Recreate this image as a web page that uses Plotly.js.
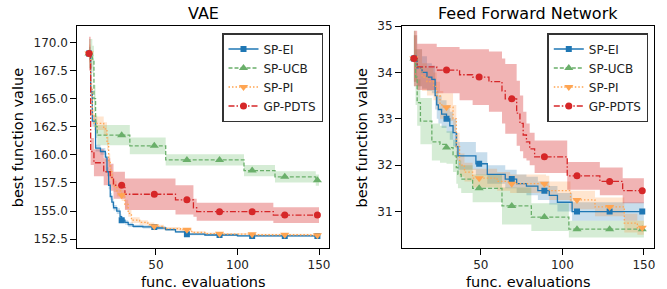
<!DOCTYPE html>
<html><head><meta charset="utf-8">
<script src="https://cdn.plot.ly/plotly-3.0.1.min.js"></script>
<style>html,body{margin:0;padding:0;background:#fff}#chart{width:667px;height:289px}</style>
</head><body><div id="chart"></div>
<script>
// ---------- data ----------
const seriesNames = ['SP-EI', 'SP-UCB', 'SP-PI', 'GP-PDTS'];
const panelTitles = ['VAE', 'Feed Forward Network'];
const xTicks = [50, 100, 150];
const vaeYTicks = [152.5, 155, 157.5, 160, 162.5, 165, 167.5, 170];
const ffnYTicks = [31, 32, 33, 34, 35];
const markX = [9, 29, 49, 69, 89, 109, 129, 149];

// VAE panel (step points: x, mean, band half-width)
const vaeEI_x = [9, 10, 11, 13, 16, 19, 20, 21, 22, 23, 24, 26, 28, 29, 31, 33, 36, 42, 50, 56, 62, 68, 80, 100, 150];
const vaeEI_y = [169.0, 165.6, 163.0, 160.6, 160.3, 159.8, 158.5, 157.3, 156.3, 155.8, 155.3, 155.0, 154.5, 154.2, 154.0, 153.8, 153.65, 153.6, 153.5, 153.35, 153.15, 152.95, 152.88, 152.8, 152.8];
const vaeEI_e = [0.6, 0.5, 0.5, 0.3, 0.3, 0.4, 0.4, 0.35, 0.3, 0.3, 0.25, 0.25, 0.2, 0.2, 0.2, 0.2, 0.15, 0.15, 0.15, 0.12, 0.1, 0.1, 0.1, 0.08, 0.08];

const vaeUCB_x = [9, 11, 12, 13, 14, 34, 56, 104, 123, 148, 150];
const vaeUCB_y = [169.0, 168.5, 165.0, 162.5, 161.75, 160.8, 159.55, 158.6, 158.05, 157.75, 157.75];
const vaeUCB_e = [1.3, 1.2, 1.2, 1.0, 0.9, 0.75, 0.5, 0.5, 0.5, 0.5, 0.5];

const vaePI_x = [9, 10, 11, 12, 18, 20, 21, 22, 23, 24, 26, 29, 31, 33, 35, 40, 45, 49, 55, 65, 72, 80, 90, 110, 145, 150];
const vaePI_y = [169.0, 166.0, 163.5, 162.8, 162.3, 161.0, 159.5, 158.5, 157.8, 157.2, 156.8, 156.4, 155.6, 154.8, 154.2, 154.0, 153.8, 153.65, 153.45, 153.35, 153.1, 153.0, 152.95, 152.9, 152.85, 152.85];
const vaePI_e = [0.8, 0.7, 0.6, 0.6, 0.6, 0.6, 0.6, 0.6, 0.6, 0.5, 0.5, 0.5, 0.4, 0.3, 0.25, 0.2, 0.2, 0.15, 0.15, 0.15, 0.12, 0.1, 0.1, 0.1, 0.1, 0.1];

const vaeGP_x = [9, 10, 12, 18, 22, 24, 31, 62, 73, 75, 122, 150];
const vaeGP_y = [169.0, 160.3, 159.3, 158.5, 158.0, 157.3, 156.5, 156.0, 155.3, 154.95, 154.65, 154.65];
const vaeGP_e = [1.5, 1.2, 1.2, 1.2, 1.2, 1.2, 1.4, 1.3, 0.8, 0.8, 0.7, 0.7];

// Feed Forward Network panel
const ffnEI_x = [9, 11, 14, 17, 20, 22, 23, 24, 26, 29, 31, 33, 35, 36, 47, 54, 65, 72, 78, 85, 92, 97, 106, 150];
const ffnEI_y = [34.3, 34.1, 34.0, 33.9, 33.85, 33.5, 33.3, 33.2, 33.1, 33.0, 32.85, 32.7, 32.4, 32.2, 32.03, 31.8, 31.7, 31.6, 31.55, 31.45, 31.35, 31.2, 31.0, 31.0];
const ffnEI_e = [0.5, 0.4, 0.35, 0.3, 0.3, 0.3, 0.3, 0.3, 0.3, 0.3, 0.3, 0.3, 0.3, 0.3, 0.25, 0.2, 0.2, 0.2, 0.2, 0.2, 0.2, 0.2, 0.2, 0.2];

const ffnUCB_x = [9, 10, 11, 13, 20, 25, 29, 33, 35, 36, 38, 45, 63, 81, 104, 150];
const ffnUCB_y = [34.3, 33.9, 33.35, 32.95, 32.5, 32.45, 32.38, 32.2, 31.95, 31.8, 31.7, 31.5, 31.12, 30.88, 30.62, 30.62];
const ffnUCB_e = [0.6, 0.6, 0.5, 0.5, 0.4, 0.4, 0.35, 0.35, 0.35, 0.3, 0.3, 0.3, 0.4, 0.3, 0.18, 0.18];

const ffnPI_x = [9, 11, 14, 17, 21, 23, 25, 27, 33, 35, 37, 40, 45, 60, 68, 90, 92, 105, 120, 138, 146, 150];
const ffnPI_y = [34.3, 34.1, 33.9, 33.8, 33.7, 33.5, 33.3, 33.25, 33.0, 32.4, 32.0, 31.85, 31.72, 31.65, 31.6, 31.57, 31.45, 31.25, 31.1, 30.75, 30.65, 30.65];
const ffnPI_e = [0.5, 0.4, 0.3, 0.3, 0.3, 0.3, 0.3, 0.3, 0.3, 0.3, 0.25, 0.2, 0.2, 0.2, 0.2, 0.2, 0.2, 0.2, 0.2, 0.2, 0.15, 0.15];

const ffnGP_x = [9, 11, 23, 37, 45, 55, 63, 65, 72, 74, 76, 78, 80, 83, 103, 123, 137, 150];
const ffnGP_y = [34.3, 34.12, 34.05, 33.95, 33.9, 33.8, 33.6, 33.43, 33.12, 32.9, 32.65, 32.5, 32.35, 32.18, 31.77, 31.65, 31.45, 31.45];
const ffnGP_e = [0.6, 0.5, 0.5, 0.55, 0.6, 0.65, 0.7, 0.75, 0.7, 0.6, 0.5, 0.4, 0.35, 0.35, 0.3, 0.3, 0.27, 0.27];

// ---------- styles ----------
const styles = {
  'SP-EI':   {color: '#1f77b4', fill: 'rgba(31,119,180,0.25)', dash: 'solid', symbol: 'square', size: 6},
  'SP-UCB':  {color: '#6aaf6a', fill: 'rgba(44,160,44,0.2)', dash: '4px,2px', symbol: 'triangle-up', size: 8},
  'SP-PI':   {color: '#ffa552', fill: 'rgba(255,127,14,0.2)', dash: '1.5px,2px', symbol: 'triangle-down', size: 8},
  'GP-PDTS': {color: '#d62728', fill: 'rgba(214,39,40,0.35)', dash: '6px,2px,1.5px,2px', symbol: 'circle', size: 7}
};

function stepAt(xs, ys, x) {
  let v = ys[0];
  for (let i = 0; i < xs.length; i++) if (xs[i] <= x) v = ys[i];
  return v;
}

const panels = [
  {xa: 'x', ya: 'y', legend: 'legend', series: [
    [vaeEI_x, vaeEI_y, vaeEI_e], [vaeUCB_x, vaeUCB_y, vaeUCB_e], [vaePI_x, vaePI_y, vaePI_e], [vaeGP_x, vaeGP_y, vaeGP_e]]},
  {xa: 'x2', ya: 'y2', legend: 'legend2', series: [
    [ffnEI_x, ffnEI_y, ffnEI_e], [ffnUCB_x, ffnUCB_y, ffnUCB_e], [ffnPI_x, ffnPI_y, ffnPI_e], [ffnGP_x, ffnGP_y, ffnGP_e]]}
];

const fills = [], lines = [], marks = [], legends = [];
panels.forEach(p => {
  p.series.forEach((s, i) => {
    const name = seriesNames[i], st = styles[name];
    const [xs, ys, es] = s;
    fills.push({x: xs, y: ys.map((v, k) => v - es[k]), xaxis: p.xa, yaxis: p.ya, mode: 'lines',
      line: {width: 0, shape: 'hv'}, showlegend: false, hoverinfo: 'skip'});
    fills.push({x: xs, y: ys.map((v, k) => v + es[k]), xaxis: p.xa, yaxis: p.ya, mode: 'lines',
      line: {width: 0, shape: 'hv'}, fill: 'tonexty', fillcolor: st.fill, showlegend: false, hoverinfo: 'skip'});
    lines.push({x: xs, y: ys, xaxis: p.xa, yaxis: p.ya, mode: 'lines',
      line: {color: st.color, width: 1.3, dash: st.dash, shape: 'hv'}, showlegend: false, name: name});
    marks.push({x: markX, y: markX.map(v => stepAt(xs, ys, v)), xaxis: p.xa, yaxis: p.ya, mode: 'markers',
      marker: {color: st.color, symbol: st.symbol, size: st.size}, showlegend: false, name: name});
    legends.push({x: [null], y: [null], xaxis: p.xa, yaxis: p.ya, mode: 'lines+markers', name: name,
      legend: p.legend, line: {color: st.color, width: 1.3, dash: st.dash},
      marker: {color: st.color, symbol: st.symbol, size: st.size}});
  });
});

const font = 'DejaVu Sans, sans-serif';
const axisBase = {showline: true, mirror: true, linecolor: '#000', linewidth: 1, ticks: 'outside',
  ticklen: 6, tickwidth: 1, tickcolor: '#000', showgrid: false, zeroline: false,
  tickfont: {family: font, size: 12, color: '#222'}};
const yDom = [1 - 247.7 / 289, 1 - 26 / 289];

const legendBase = {font: {family: font, size: 12, color: '#222'}, bgcolor: 'rgba(255,255,255,0.85)',
  bordercolor: '#333', borderwidth: 1.5, xanchor: 'right', yanchor: 'top', tracegroupgap: 0,
  traceorder: 'normal', itemwidth: 30};

const layout = {
  width: 667, height: 289, margin: {l: 0, r: 0, t: 0, b: 0},
  paper_bgcolor: '#fff', plot_bgcolor: '#fff', showlegend: true,
  xaxis: Object.assign({}, axisBase, {domain: [77.3 / 667, 329.3 / 667], range: [1.8, 156.3], tickvals: xTicks, anchor: 'y'}),
  yaxis: Object.assign({}, axisBase, {domain: yDom, range: [151.75, 171.45], tickvals: vaeYTicks, tickformat: '.1f', anchor: 'x'}),
  xaxis2: Object.assign({}, axisBase, {domain: [402 / 667, 654 / 667], range: [1.7, 156.2], tickvals: xTicks, anchor: 'y2'}),
  yaxis2: Object.assign({}, axisBase, {domain: yDom, range: [30.22, 35.001], tickvals: ffnYTicks, anchor: 'x2'}),
  legend: Object.assign({}, legendBase, {x: 323 / 667, y: 1 - 33 / 289}),
  legend2: Object.assign({}, legendBase, {x: 648.3 / 667, y: 1 - 33 / 289}),
  annotations: [
    {text: panelTitles[0], x: 203.3 / 667, y: 1 - 14 / 289, xref: 'paper', yref: 'paper', showarrow: false,
      xanchor: 'center', yanchor: 'middle', font: {family: font, size: 16, color: '#000'}},
    {text: panelTitles[1], x: 528 / 667, y: 1 - 14 / 289, xref: 'paper', yref: 'paper', showarrow: false,
      xanchor: 'center', yanchor: 'middle', font: {family: font, size: 16, color: '#000'}},
    {text: 'func. evaluations', x: 203.3 / 667, y: 1 - 281.7 / 289, xref: 'paper', yref: 'paper', showarrow: false,
      xanchor: 'center', yanchor: 'middle', font: {family: font, size: 14.5, color: '#000'}},
    {text: 'func. evaluations', x: 528 / 667, y: 1 - 281.7 / 289, xref: 'paper', yref: 'paper', showarrow: false,
      xanchor: 'center', yanchor: 'middle', font: {family: font, size: 14.5, color: '#000'}},
    {text: 'best function value', x: 18.3 / 667, y: 1 - 137 / 289, xref: 'paper', yref: 'paper', showarrow: false,
      textangle: -90, xanchor: 'center', yanchor: 'middle', font: {family: font, size: 14.5, color: '#000'}},
    {text: 'best function value', x: 362.4 / 667, y: 1 - 137 / 289, xref: 'paper', yref: 'paper', showarrow: false,
      textangle: -90, xanchor: 'center', yanchor: 'middle', font: {family: font, size: 14.5, color: '#000'}}
  ]
};

Plotly.newPlot('chart', fills.concat(lines, marks, legends), layout, {staticPlot: true, displayModeBar: false});
</script>
</body></html>
